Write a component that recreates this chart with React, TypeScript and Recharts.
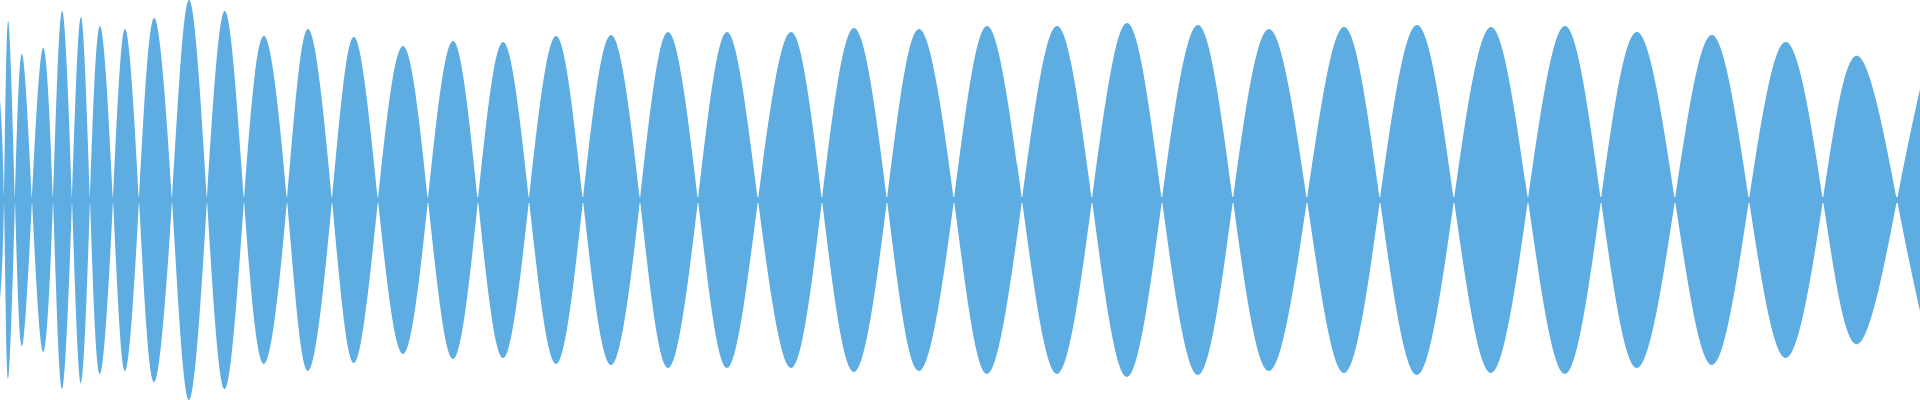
import { AreaChart, Area, XAxis, YAxis, ReferenceLine } from "recharts";

// time (ms) of each zero crossing / lobe peak
const times = [
  0, 4, 8, 15, 22, 32, 43, 53, 62, 72, 81, 90, 100, 113, 125, 139, 154, 172, 189, 207,
  225, 244, 264, 287, 308, 332, 354, 378, 403, 428, 453, 478, 503, 529, 556, 583, 611,
  640, 668, 698, 727, 758, 791, 822, 854, 887, 919, 954, 987, 1022, 1057, 1092, 1127,
  1162, 1198, 1233, 1269, 1307, 1344, 1380, 1417, 1454, 1491, 1528, 1565, 1601, 1637,
  1675, 1712, 1749, 1786, 1823, 1858, 1897, 1920,
];

// normalised signal at those times (peaks alternate in sign)
const signal = [
  0.5, 0, -0.895, 0, 0.73, 0, -0.76, 0, 0.945, 0, -0.915, 0, 0.87, 0, -0.855, 0, 0.91, 0,
  -1.0, 0, 0.945, 0, -0.82, 0, 0.855, 0, -0.815, 0, 0.77, 0, -0.795, 0, 0.79, 0, -0.82, 0,
  0.825, 0, -0.84, 0, 0.84, 0, -0.84, 0, 0.86, 0, -0.855, 0, 0.87, 0, -0.87, 0, 0.885, 0,
  -0.875, 0, 0.855, 0, -0.865, 0, 0.875, 0, -0.865, 0, 0.87, 0, -0.84, 0, 0.825, 0, -0.79,
  0, 0.72, 0, -0.555,
];

const FILL = "#5DADE2";

const data = times.map((t, i) => ({ t, wave: signal[i], mirror: -signal[i] }));

export default function App() {
  return (
    <div style={{ position: "absolute", left: 0, top: 0, background: "#fff" }}>
      <AreaChart width={1920} height={400} data={data} margin={{ top: 0, right: 0, left: 0, bottom: 0 }}>
        <XAxis dataKey="t" type="number" domain={[0, 1920]} hide />
        <YAxis type="number" domain={[-1, 1]} hide allowDataOverflow />
        <ReferenceLine y={0} stroke={FILL} strokeWidth={6} />
        <Area
          type="natural"
          dataKey="wave"
          stroke="none"
          fill={FILL}
          fillOpacity={1}
          isAnimationActive={false}
          dot={false}
          activeDot={false}
        />
        <Area
          type="natural"
          dataKey="mirror"
          stroke="none"
          fill={FILL}
          fillOpacity={1}
          isAnimationActive={false}
          dot={false}
          activeDot={false}
        />
      </AreaChart>
    </div>
  );
}
